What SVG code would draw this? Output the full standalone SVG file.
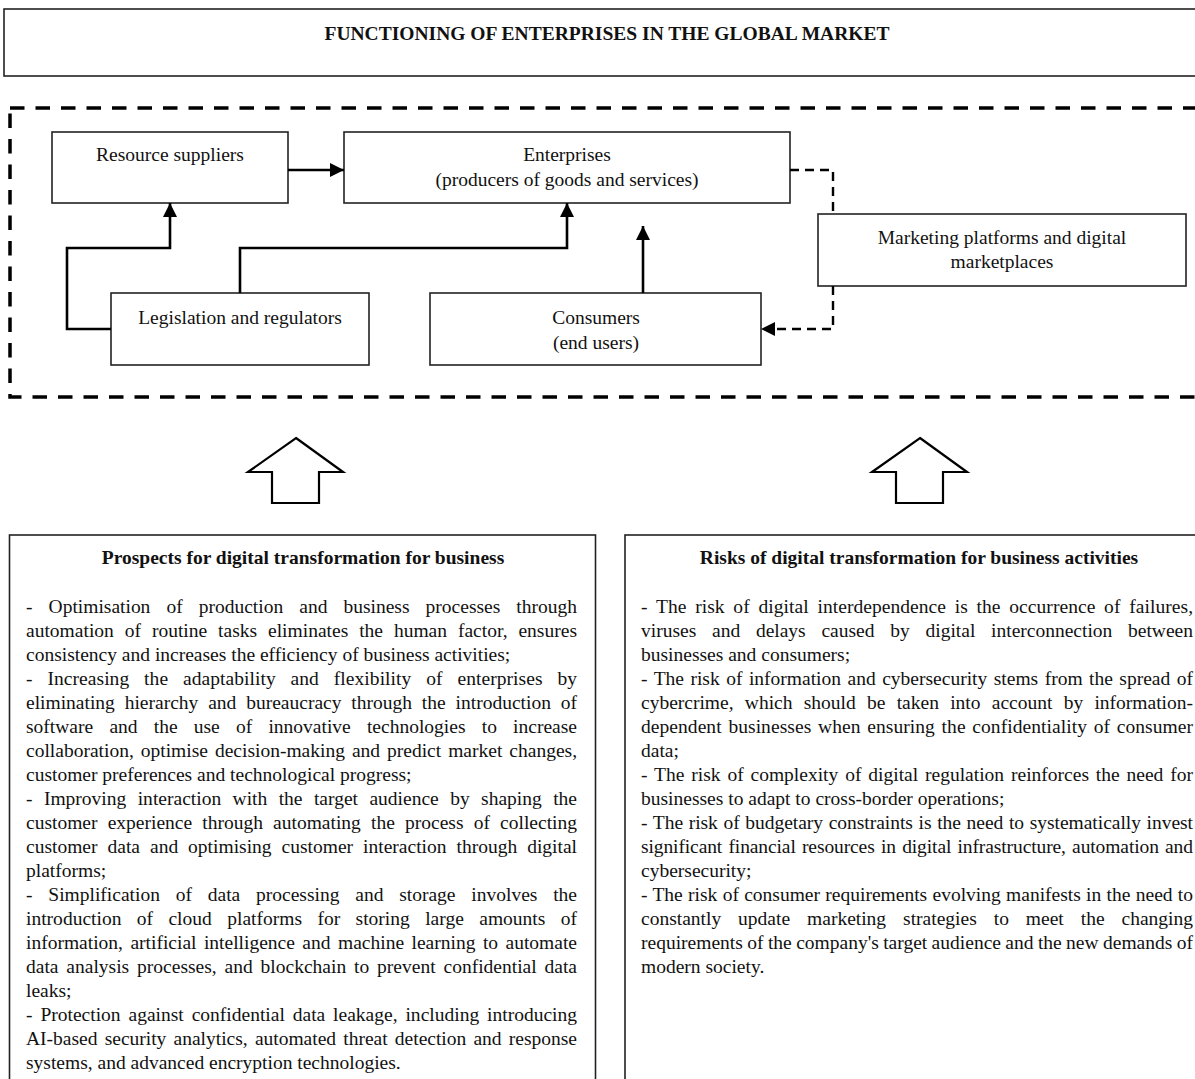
<svg xmlns="http://www.w3.org/2000/svg" width="1195" height="1079" viewBox="0 0 1195 1079">
<style>
  text { font-family: "Liberation Serif", "Times New Roman", serif; fill: #111; }
  .t { font-size: 19.5px; }
  .c { text-anchor: middle; }
  .b { font-weight: bold; }
  .box { fill: #fff; stroke: #222; stroke-width: 1.6; }
  .frame { fill: none; stroke: #000; stroke-width: 3.5; stroke-dasharray: 14.5 11; }
  .ln { fill: none; stroke: #000; stroke-width: 2.6; }
  .dl { fill: none; stroke: #000; stroke-width: 2.4; stroke-dasharray: 9 6; }
  .blk { fill: #fff; stroke: #000; stroke-width: 2.2; stroke-linejoin: miter; }
  .body { font-size: 19.5px; }
</style>
<defs>
  <marker id="ah" viewBox="0 0 14 14" refX="14" refY="7" markerWidth="14" markerHeight="14" markerUnits="userSpaceOnUse" orient="auto">
    <path d="M0,0 L14,7 L0,14 z" fill="#000"/>
  </marker>
</defs>
<rect width="1195" height="1079" fill="#fff"/>

<g id="title">
  <rect class="box" x="4" y="9" width="1200" height="67"/>
  <text class="t b c" x="607" y="40" textLength="565" lengthAdjust="spacingAndGlyphs">FUNCTIONING OF ENTERPRISES IN THE GLOBAL MARKET</text>
</g>

<g id="market-frame">
  <rect class="frame" x="10" y="108" width="1200" height="289"/>
</g>

<g id="resource-suppliers">
  <rect class="box" x="52" y="132" width="236" height="71"/>
  <text class="t c" x="170" y="161">Resource suppliers</text>
</g>
<g id="enterprises">
  <rect class="box" x="344" y="132" width="446" height="71"/>
  <text class="t c" x="567" y="161">Enterprises</text>
  <text class="t c" x="567" y="186">(producers of goods and services)</text>
</g>
<g id="marketing-platforms">
  <rect class="box" x="818" y="214" width="368" height="72"/>
  <text class="t c" x="1002" y="244">Marketing platforms and digital</text>
  <text class="t c" x="1002" y="268">marketplaces</text>
</g>
<g id="legislation">
  <rect class="box" x="111" y="293" width="258" height="72"/>
  <text class="t c" x="240" y="324">Legislation and regulators</text>
</g>
<g id="consumers">
  <rect class="box" x="430" y="293" width="331" height="72"/>
  <text class="t c" x="596" y="324">Consumers</text>
  <text class="t c" x="596" y="349">(end users)</text>
</g>

<g id="connectors">
  <path class="ln" d="M288,170 H344" marker-end="url(#ah)"/>
  <path class="ln" d="M111,329 H67 V248 H170 V203" marker-end="url(#ah)"/>
  <path class="ln" d="M240,293 V248 H567 V203" marker-end="url(#ah)"/>
  <path class="ln" d="M643,293 V226" marker-end="url(#ah)"/>
  <path class="dl" d="M790,170 H833 V214"/>
  <path class="dl" d="M833,286 V329 H774"/>
  <path d="M761,329 L775,322 L775,336 z" fill="#000"/>
</g>

<g id="arrow-left">
  <polygon class="blk" points="296,438 343,472 319,472 319,503 272,503 272,472 248,472"/>
</g>
<g id="arrow-right">
  <polygon class="blk" points="920,438 967,472 943,472 943,503 896,503 896,472 872,472"/>
</g>

<g id="prospects">
  <rect class="box" x="9.5" y="535" width="586" height="560"/>
  <text class="t b c" x="303" y="564">Prospects for digital transformation for business</text>
  <g class="body">
    <text x="26" y="613" textLength="551" lengthAdjust="spacing" style="word-spacing:11.2px">- Optimisation of production and business processes through</text>
    <text x="26" y="637" textLength="551" lengthAdjust="spacing" style="word-spacing:6px">automation of routine tasks eliminates the human factor, ensures</text>
    <text x="26" y="661">consistency and increases the efficiency of business activities;</text>
    <text x="26" y="685" textLength="551" lengthAdjust="spacing" style="word-spacing:9.9px">- Increasing the adaptability and flexibility of enterprises by</text>
    <text x="26" y="709" textLength="551" lengthAdjust="spacing" style="word-spacing:5px">eliminating hierarchy and bureaucracy through the introduction of</text>
    <text x="26" y="733" textLength="551" lengthAdjust="spacing" style="word-spacing:11.3px">software and the use of innovative technologies to increase</text>
    <text x="26" y="757" textLength="551" lengthAdjust="spacing" style="word-spacing:2.1px">collaboration, optimise decision-making and predict market changes,</text>
    <text x="26" y="781">customer preferences and technological progress;</text>
    <text x="26" y="805" textLength="551" lengthAdjust="spacing" style="word-spacing:6.5px">- Improving interaction with the target audience by shaping the</text>
    <text x="26" y="829" textLength="551" lengthAdjust="spacing" style="word-spacing:5.3px">customer experience through automating the process of collecting</text>
    <text x="26" y="853" textLength="551" lengthAdjust="spacing" style="word-spacing:5.1px">customer data and optimising customer interaction through digital</text>
    <text x="26" y="877">platforms;</text>
    <text x="26" y="901" textLength="551" lengthAdjust="spacing" style="word-spacing:10.9px">- Simplification of data processing and storage involves the</text>
    <text x="26" y="925" textLength="551" lengthAdjust="spacing" style="word-spacing:10.5px">introduction of cloud platforms for storing large amounts of</text>
    <text x="26" y="949" textLength="551" lengthAdjust="spacing" style="word-spacing:2.6px">information, artificial intelligence and machine learning to automate</text>
    <text x="26" y="973" textLength="551" lengthAdjust="spacing" style="word-spacing:3px">data analysis processes, and blockchain to prevent confidential data</text>
    <text x="26" y="997">leaks;</text>
    <text x="26" y="1021" textLength="551" lengthAdjust="spacing" style="word-spacing:3px">- Protection against confidential data leakage, including introducing</text>
    <text x="26" y="1045" textLength="551" lengthAdjust="spacing" style="word-spacing:2.3px">AI-based security analytics, automated threat detection and response</text>
    <text x="26" y="1069">systems, and advanced encryption technologies.</text>
  </g>
</g>

<g id="risks">
  <rect class="box" x="625" y="535" width="600" height="560"/>
  <text class="t b c" x="919" y="564">Risks of digital transformation for business activities</text>
  <g class="body">
    <text x="641" y="613" textLength="552" lengthAdjust="spacing" style="word-spacing:3.8px">- The risk of digital interdependence is the occurrence of failures,</text>
    <text x="641" y="637" textLength="552" lengthAdjust="spacing" style="word-spacing:10.9px">viruses and delays caused by digital interconnection between</text>
    <text x="641" y="661">businesses and consumers;</text>
    <text x="641" y="685" textLength="552" lengthAdjust="spacing" style="word-spacing:1.6px">- The risk of information and cybersecurity stems from the spread of</text>
    <text x="641" y="709" textLength="552" lengthAdjust="spacing" style="word-spacing:6.4px">cybercrime, which should be taken into account by information-</text>
    <text x="641" y="733" textLength="552" lengthAdjust="spacing" style="word-spacing:1.8px">dependent businesses when ensuring the confidentiality of consumer</text>
    <text x="641" y="757">data;</text>
    <text x="641" y="781" textLength="552" lengthAdjust="spacing" style="word-spacing:2px">- The risk of complexity of digital regulation reinforces the need for</text>
    <text x="641" y="805">businesses to adapt to cross-border operations;</text>
    <text x="641" y="829" textLength="552" lengthAdjust="spacing" style="word-spacing:0.8px">- The risk of budgetary constraints is the need to systematically invest</text>
    <text x="641" y="853" textLength="552" lengthAdjust="spacing" style="word-spacing:1.5px">significant financial resources in digital infrastructure, automation and</text>
    <text x="641" y="877">cybersecurity;</text>
    <text x="641" y="901" textLength="552" lengthAdjust="spacing" style="word-spacing:0.4px">- The risk of consumer requirements evolving manifests in the need to</text>
    <text x="641" y="925" textLength="552" lengthAdjust="spacing" style="word-spacing:12.1px">constantly update marketing strategies to meet the changing</text>
    <text x="641" y="949" textLength="552" lengthAdjust="spacing" style="word-spacing:-0.5px">requirements of the company's target audience and the new demands of</text>
    <text x="641" y="973">modern society.</text>
  </g>
</g>
</svg>
